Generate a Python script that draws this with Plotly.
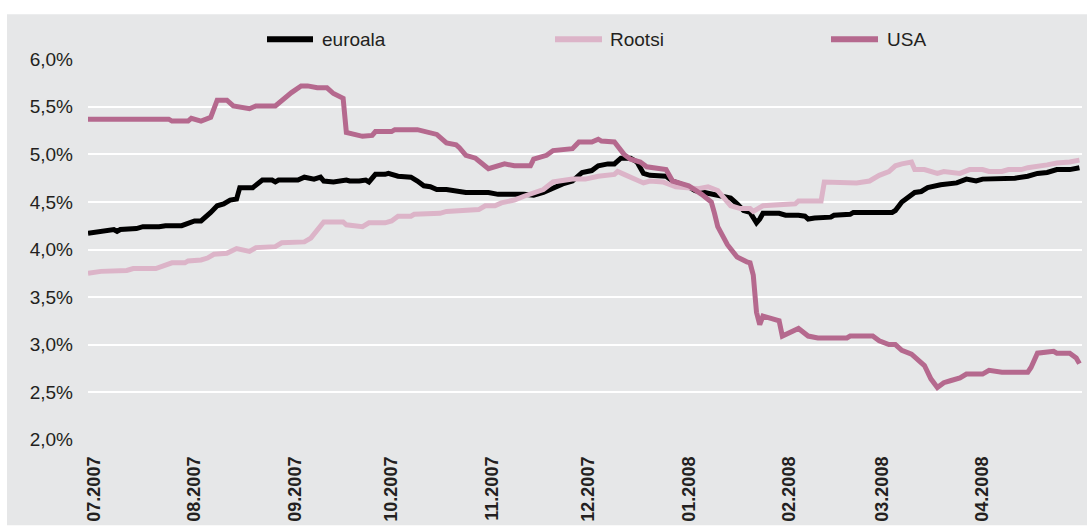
import plotly.graph_objects as go

# --- data -----------------------------------------------------------------
euro_dates = [
    "2007-06-29", "2007-07-04", "2007-07-07", "2007-07-08", "2007-07-09", "2007-07-14",
    "2007-07-16", "2007-07-21", "2007-07-23", "2007-07-28", "2007-07-30", "2007-08-01",
    "2007-08-03", "2007-08-05", "2007-08-06", "2007-08-08", "2007-08-10", "2007-08-12",
    "2007-08-14", "2007-08-15", "2007-08-19", "2007-08-22", "2007-08-25", "2007-08-26",
    "2007-08-27", "2007-09-02", "2007-09-04", "2007-09-07", "2007-09-09", "2007-09-10",
    "2007-09-13", "2007-09-17", "2007-09-18", "2007-09-21", "2007-09-23", "2007-09-24",
    "2007-09-26", "2007-09-29", "2007-09-30", "2007-10-03", "2007-10-07", "2007-10-09",
    "2007-10-11", "2007-10-13", "2007-10-15", "2007-10-18", "2007-10-21", "2007-10-24",
    "2007-10-31", "2007-11-03", "2007-11-11", "2007-11-14", "2007-11-17", "2007-11-20",
    "2007-11-23", "2007-11-26", "2007-11-29", "2007-12-02", "2007-12-04", "2007-12-07",
    "2007-12-09", "2007-12-11", "2007-12-14", "2007-12-16", "2007-12-18", "2007-12-20",
    "2007-12-25", "2007-12-27", "2007-12-30", "2008-01-01", "2008-01-03", "2008-01-07",
    "2008-01-10", "2008-01-14", "2008-01-16", "2008-01-18", "2008-01-20", "2008-01-22",
    "2008-01-23", "2008-01-24", "2008-01-29", "2008-01-31", "2008-02-04", "2008-02-06",
    "2008-02-07", "2008-02-09", "2008-02-14", "2008-02-15", "2008-02-20", "2008-02-21",
    "2008-03-04", "2008-03-05", "2008-03-07", "2008-03-09", "2008-03-11", "2008-03-13",
    "2008-03-15", "2008-03-19", "2008-03-24", "2008-03-27", "2008-03-30", "2008-04-01",
    "2008-04-11", "2008-04-15", "2008-04-18", "2008-04-21", "2008-04-24", "2008-04-28",
    "2008-05-01",
]
euro_values = [
    4.17, 4.20, 4.21, 4.19, 4.21, 4.22,
    4.24, 4.24, 4.25, 4.25, 4.27, 4.30,
    4.30, 4.35, 4.39, 4.46, 4.48, 4.52,
    4.53, 4.65, 4.65, 4.73, 4.73, 4.71,
    4.73, 4.73, 4.76, 4.74, 4.76, 4.72,
    4.71, 4.73, 4.72, 4.72, 4.73, 4.71,
    4.79, 4.79, 4.80, 4.77, 4.76, 4.72,
    4.67, 4.66, 4.63, 4.63, 4.61, 4.60,
    4.60, 4.58, 4.58, 4.57, 4.60, 4.65,
    4.69, 4.72, 4.81, 4.83, 4.88, 4.90,
    4.90, 4.96, 4.96, 4.92, 4.80, 4.78,
    4.77, 4.72, 4.69, 4.66, 4.62, 4.59,
    4.57, 4.54, 4.48, 4.41, 4.39, 4.28,
    4.32, 4.38, 4.38, 4.36, 4.36, 4.35,
    4.32, 4.33, 4.34, 4.36, 4.37, 4.39,
    4.39, 4.41, 4.50, 4.55, 4.60, 4.61,
    4.65, 4.68, 4.70, 4.74, 4.72, 4.74,
    4.75, 4.77, 4.80, 4.81, 4.84, 4.84,
    4.86,
]

rootsi_dates = [
    "2007-06-29", "2007-07-03", "2007-07-11", "2007-07-13", "2007-07-20", "2007-07-23",
    "2007-07-25", "2007-07-29", "2007-07-30", "2007-08-03", "2007-08-05", "2007-08-07",
    "2007-08-11", "2007-08-14", "2007-08-18", "2007-08-20", "2007-08-26", "2007-08-28",
    "2007-08-30", "2007-09-04", "2007-09-06", "2007-09-08", "2007-09-10", "2007-09-16",
    "2007-09-17", "2007-09-22", "2007-09-24", "2007-09-29", "2007-10-01", "2007-10-03",
    "2007-10-07", "2007-10-08", "2007-10-16", "2007-10-18", "2007-10-22", "2007-10-24",
    "2007-10-28", "2007-10-30", "2007-11-02", "2007-11-04", "2007-11-08", "2007-11-11",
    "2007-11-14", "2007-11-17", "2007-11-20", "2007-11-23", "2007-11-26", "2007-11-30",
    "2007-12-04", "2007-12-09", "2007-12-10", "2007-12-12", "2007-12-15", "2007-12-18",
    "2007-12-20", "2007-12-24", "2007-12-28", "2008-01-01", "2008-01-04", "2008-01-07",
    "2008-01-10", "2008-01-14", "2008-01-17", "2008-01-20", "2008-01-21", "2008-01-24",
    "2008-01-29", "2008-02-03", "2008-02-04", "2008-02-11", "2008-02-12", "2008-02-14",
    "2008-02-17", "2008-02-22", "2008-02-26", "2008-02-29", "2008-03-03", "2008-03-05",
    "2008-03-07", "2008-03-10", "2008-03-11", "2008-03-14", "2008-03-18", "2008-03-20",
    "2008-03-25", "2008-03-28", "2008-04-01", "2008-04-03", "2008-04-07", "2008-04-09",
    "2008-04-13", "2008-04-15", "2008-04-21", "2008-04-24", "2008-04-28", "2008-05-01",
]
rootsi_values = [
    3.75, 3.77, 3.78, 3.80, 3.80, 3.84,
    3.86, 3.86, 3.88, 3.89, 3.91, 3.95,
    3.96, 4.01, 3.98, 4.02, 4.03, 4.07,
    4.07, 4.08, 4.12, 4.20, 4.29, 4.29,
    4.26, 4.24, 4.28, 4.28, 4.30, 4.35,
    4.35, 4.37, 4.38, 4.40, 4.41, 4.42,
    4.42, 4.46, 4.46, 4.49, 4.52, 4.56,
    4.59, 4.63, 4.71, 4.73, 4.74, 4.74,
    4.77, 4.79, 4.82, 4.79, 4.75, 4.70,
    4.72, 4.71, 4.66, 4.65, 4.64, 4.66,
    4.62, 4.46, 4.43, 4.43, 4.40, 4.46,
    4.47, 4.48, 4.51, 4.51, 4.71, 4.71,
    4.70, 4.70, 4.72, 4.78, 4.82, 4.88,
    4.90, 4.92, 4.84, 4.84, 4.80, 4.82,
    4.80, 4.84, 4.84, 4.82, 4.82, 4.84,
    4.84, 4.86, 4.89, 4.91, 4.92, 4.94,
]

usa_dates = [
    "2007-06-29", "2007-07-24", "2007-07-25", "2007-07-30", "2007-07-31", "2007-08-03",
    "2007-08-06", "2007-08-08", "2007-08-11", "2007-08-13", "2007-08-18", "2007-08-20",
    "2007-08-26", "2007-08-29", "2007-08-31", "2007-09-03", "2007-09-05", "2007-09-08",
    "2007-09-11", "2007-09-13", "2007-09-16", "2007-09-17", "2007-09-19", "2007-09-22",
    "2007-09-25", "2007-09-26", "2007-10-01", "2007-10-02", "2007-10-09", "2007-10-11",
    "2007-10-15", "2007-10-18", "2007-10-21", "2007-10-22", "2007-10-24", "2007-10-27",
    "2007-10-31", "2007-11-05", "2007-11-08", "2007-11-13", "2007-11-14", "2007-11-18",
    "2007-11-20", "2007-11-26", "2007-11-28", "2007-12-02", "2007-12-04", "2007-12-05",
    "2007-12-09", "2007-12-12", "2007-12-14", "2007-12-17", "2007-12-19", "2007-12-25",
    "2007-12-27", "2007-12-30", "2008-01-01", "2008-01-05", "2008-01-08", "2008-01-09",
    "2008-01-10", "2008-01-13", "2008-01-16", "2008-01-19", "2008-01-20", "2008-01-21",
    "2008-01-22", "2008-01-23", "2008-01-24", "2008-01-27", "2008-01-29", "2008-01-30",
    "2008-02-02", "2008-02-04", "2008-02-07", "2008-02-10", "2008-02-19", "2008-02-20",
    "2008-02-27", "2008-02-29", "2008-03-03", "2008-03-05", "2008-03-07", "2008-03-10",
    "2008-03-14", "2008-03-16", "2008-03-18", "2008-03-20", "2008-03-22", "2008-03-25",
    "2008-03-27", "2008-04-01", "2008-04-03", "2008-04-07", "2008-04-15", "2008-04-16",
    "2008-04-18", "2008-04-21", "2008-04-23", "2008-04-24", "2008-04-28", "2008-04-30",
    "2008-05-01",
]
usa_values = [
    5.37, 5.37, 5.35, 5.35, 5.38, 5.35,
    5.39, 5.57, 5.57, 5.51, 5.48, 5.51,
    5.51, 5.60, 5.65, 5.72, 5.72, 5.70,
    5.70, 5.64, 5.59, 5.23, 5.21, 5.19,
    5.20, 5.24, 5.24, 5.26, 5.26, 5.24,
    5.21, 5.12, 5.10, 5.07, 4.99, 4.96,
    4.85, 4.90, 4.88, 4.88, 4.95, 4.99,
    5.04, 5.06, 5.13, 5.13, 5.16, 5.14,
    5.13, 5.00, 4.95, 4.92, 4.87, 4.84,
    4.72, 4.69, 4.67, 4.58, 4.50, 4.38,
    4.24, 4.05, 3.92, 3.87, 3.86, 3.73,
    3.34, 3.21, 3.30, 3.27, 3.25, 3.09,
    3.13, 3.17, 3.09, 3.07, 3.07, 3.09,
    3.09, 3.04, 3.00, 3.00, 2.94, 2.90,
    2.78, 2.64, 2.55, 2.60, 2.62, 2.65,
    2.69, 2.69, 2.73, 2.71, 2.71, 2.76,
    2.91, 2.93, 2.93, 2.91, 2.91, 2.86,
    2.80,
]

month_ticks = [
    "2007-07-01", "2007-08-01", "2007-09-01", "2007-10-01", "2007-11-01",
    "2007-12-01", "2008-01-01", "2008-02-01", "2008-03-01", "2008-04-01",
]
month_labels = [
    "07.2007", "08.2007", "09.2007", "10.2007", "11.2007",
    "12.2007", "01.2008", "02.2008", "03.2008", "04.2008",
]
y_ticks = [2.0, 2.5, 3.0, 3.5, 4.0, 4.5, 5.0, 5.5, 6.0]
y_labels = ["2,0%", "2,5%", "3,0%", "3,5%", "4,0%", "4,5%", "5,0%", "5,5%", "6,0%"]

series_names = ["euroala", "Rootsi", "USA"]
series_colors = ["#000000", "#dcb4c8", "#b5698e"]

# --- layout geometry ------------------------------------------------------
W, H = 1087, 527
ML, MR, MT, MB = 88, 5, 59, 84
PW, PH = W - ML - MR, H - MT - MB
BG = "#e6e7e8"
FONT = "Liberation Sans, Arial, sans-serif"
TXT = "#231f20"


def fx(px):
    return (px - ML) / PW


def fy(py):
    return (H - MB - py) / PH


fig = go.Figure()
for name, color, xs, ys in zip(
    series_names,
    series_colors,
    [euro_dates, rootsi_dates, usa_dates],
    [euro_values, rootsi_values, usa_values],
):
    fig.add_trace(
        go.Scatter(
            x=xs, y=ys, name=name, mode="lines",
            line=dict(color=color, width=5),
            showlegend=False,
        )
    )

shapes = [
    dict(
        type="rect", xref="paper", yref="paper",
        x0=fx(7), x1=fx(W + 2), y0=fy(H + 2), y1=fy(14),
        fillcolor=BG, line=dict(width=0), layer="below",
    )
]
annotations = []

# legend row drawn along the top
legend_pos = [(267, 313, 320), (555, 602, 608), (831, 878, 885)]
for (x0, x1, xt), name, color in zip(legend_pos, series_names, series_colors):
    shapes.append(
        dict(
            type="line", xref="paper", yref="paper",
            x0=fx(x0), x1=fx(x1), y0=fy(39), y1=fy(39),
            line=dict(color=color, width=6),
        )
    )
    annotations.append(
        dict(
            xref="paper", yref="paper", x=fx(xt), y=fy(39),
            xanchor="left", yanchor="middle", text=name, showarrow=False,
            font=dict(family=FONT, size=19, color=TXT),
        )
    )

fig.update_layout(
    width=W, height=H,
    margin=dict(l=ML, r=MR, t=MT, b=MB, pad=0),
    paper_bgcolor="white",
    plot_bgcolor=BG,
    shapes=shapes,
    annotations=annotations,
    showlegend=False,
)

fig.update_xaxes(
    type="date",
    range=["2007-06-29", "2008-05-01 19:00"],
    tickvals=month_ticks, ticktext=month_labels,
    tickangle=-90,
    tickfont=dict(family=FONT, size=18, color=TXT, weight="bold"),
    ticks="", ticklabelstandoff=12,
    showgrid=False, zeroline=False, showline=False,
)
fig.update_yaxes(
    range=[1.997, 6.003],
    tickvals=y_ticks, ticktext=y_labels,
    tickfont=dict(family=FONT, size=19, color=TXT),
    ticks="", ticklabelstandoff=14,
    showgrid=True, gridcolor="white", gridwidth=2,
    zeroline=False, showline=False,
)

fig.write_html("out.html")
